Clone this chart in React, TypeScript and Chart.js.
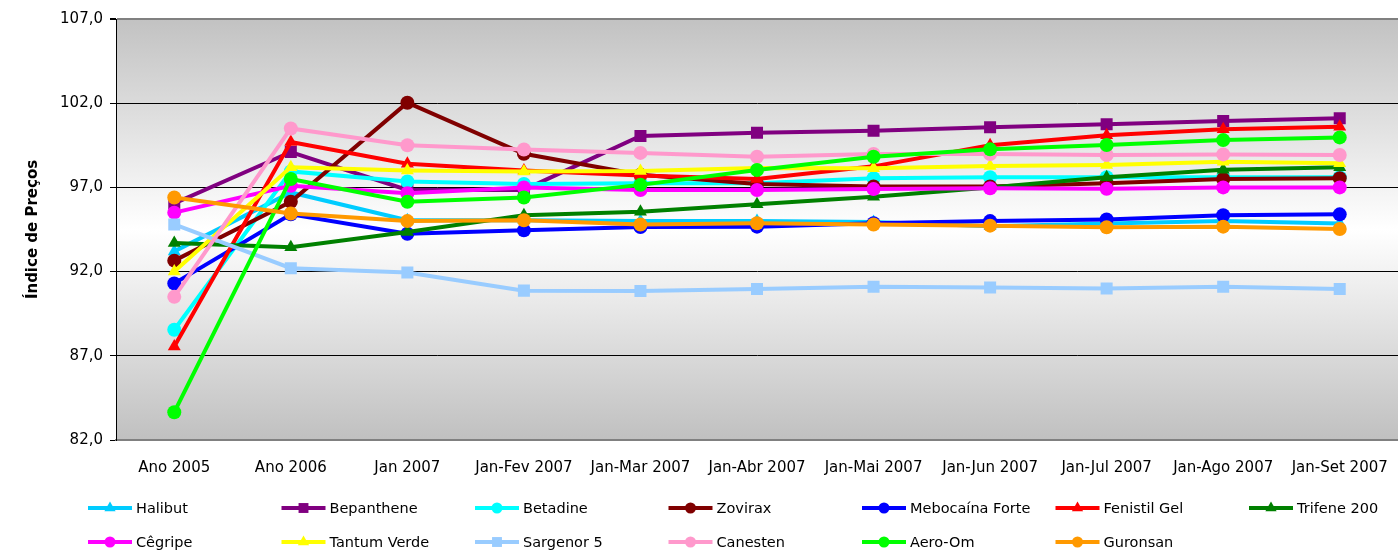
import React, { useEffect, useRef } from 'react';
import { Chart, registerables } from 'chart.js';

Chart.register(...registerables);

const categories = [
  'Ano 2005', 'Ano 2006', 'Jan 2007', 'Jan-Fev 2007', 'Jan-Mar 2007', 'Jan-Abr 2007',
  'Jan-Mai 2007', 'Jan-Jun 2007', 'Jan-Jul 2007', 'Jan-Ago 2007', 'Jan-Set 2007',
];

const yTicks = [82, 87, 92, 97, 102, 107];

const halibut = [93.2, 96.7, 95.05, 95.05, 95.0, 95.0, 94.95, 94.7, 94.85, 95.0, 94.85];
const bepanthene = [96.05, 99.1, 96.85, 96.85, 100.05, 100.25, 100.37, 100.57, 100.75, 100.94, 101.1];
const betadine = [88.55, 97.95, 97.35, 97.2, 97.25, 97.25, 97.55, 97.6, 97.6, 97.6, 97.6];
const zovirax = [92.65, 96.15, 102.03, 99.0, 97.75, 97.2, 97.05, 97.05, 97.25, 97.5, 97.55];
const mebocaina = [91.3, 95.4, 94.25, 94.45, 94.65, 94.67, 94.87, 95.0, 95.1, 95.35, 95.4];
const fenistil = [87.55, 99.7, 98.4, 98.0, 97.7, 97.5, 98.25, 99.5, 100.1, 100.45, 100.6];
const trifene = [93.7, 93.45, 94.35, 95.35, 95.55, 96.0, 96.45, 97.0, 97.6, 98.05, 98.2];
const cegripe = [95.5, 97.1, 96.65, 97.0, 96.85, 96.85, 96.9, 96.95, 96.92, 97.0, 97.0];
const tantumVerde = [92.0, 98.2, 98.0, 97.95, 97.97, 98.15, 98.13, 98.27, 98.33, 98.53, 98.43];
const sargenor = [94.8, 92.2, 91.95, 90.87, 90.85, 90.97, 91.1, 91.05, 91.0, 91.1, 90.97];
const canesten = [90.5, 100.5, 99.5, 99.25, 99.05, 98.82, 98.98, 98.98, 98.92, 98.96, 98.92];
const aeroOm = [83.65, 97.5, 96.15, 96.4, 97.15, 98.03, 98.82, 99.26, 99.52, 99.81, 99.97];
const guronsan = [96.4, 95.45, 95.0, 95.05, 94.8, 94.87, 94.8, 94.73, 94.63, 94.67, 94.53];

const seriesNames = [
  'Halibut', 'Bepanthene', 'Betadine', 'Zovirax', 'Mebocaína Forte', 'Fenistil Gel', 'Trifene 200',
  'Cêgripe', 'Tantum Verde', 'Sargenor 5', 'Canesten', 'Aero-Om', 'Guronsan',
];
const seriesValues = [
  halibut, bepanthene, betadine, zovirax, mebocaina, fenistil, trifene,
  cegripe, tantumVerde, sargenor, canesten, aeroOm, guronsan,
];
const seriesColors = [
  '#00CCFF', '#800080', '#00FFFF', '#800000', '#0000FF', '#FF0000', '#008000',
  '#FF00FF', '#FFFF00', '#99CCFF', '#FF99CC', '#00FF00', '#FF9900',
];
const seriesMarkers = [
  'triangle', 'rect', 'circle', 'circle', 'circle', 'triangle', 'triangle',
  'circle', 'triangle', 'rect', 'circle', 'circle', 'circle',
];

const FONT = "'DejaVu Sans', sans-serif";

function markerRadius(style: string) {
  if (style === 'rect') return 8.5;
  if (style === 'triangle') return 7.5;
  return 7;
}

function drawMarker(ctx: CanvasRenderingContext2D, style: string, x: number, y: number, r: number, color: string) {
  ctx.fillStyle = color;
  ctx.beginPath();
  if (style === 'rect') {
    const s = r * Math.SQRT1_2;
    ctx.rect(x - s, y - s, 2 * s, 2 * s);
  } else if (style === 'triangle') {
    for (let k = 0; k < 3; k++) {
      const a = (k * 2 * Math.PI) / 3;
      const px = x + Math.sin(a) * r;
      const py = y - Math.cos(a) * r;
      if (k === 0) ctx.moveTo(px, py); else ctx.lineTo(px, py);
    }
    ctx.closePath();
  } else {
    ctx.arc(x, y, r, 0, Math.PI * 2);
  }
  ctx.fill();
}

const bgPlugin = {
  id: 'plotBackground',
  beforeDraw(chart: any) {
    const { ctx, chartArea } = chart;
    if (!chartArea) return;
    const g = ctx.createLinearGradient(0, chartArea.top, 0, chartArea.bottom);
    g.addColorStop(0, '#c2c2c2');
    g.addColorStop(0.5, '#ffffff');
    g.addColorStop(1, '#c0c0c0');
    ctx.save();
    ctx.fillStyle = g;
    ctx.fillRect(chartArea.left, chartArea.top, chartArea.right - chartArea.left, chartArea.bottom - chartArea.top);
    ctx.restore();
  },
};

const legendPlugin = {
  id: 'gridLegend',
  afterDraw(chart: any) {
    const ctx: CanvasRenderingContext2D = chart.ctx;
    const perRow = 7;
    const startX = 88;
    const colW = 193.5;
    const rowY = [508, 542];
    const lineLen = 44;
    ctx.save();
    ctx.font = `14.5px ${FONT}`;
    ctx.textBaseline = 'middle';
    ctx.textAlign = 'left';
    chart.data.datasets.forEach((ds: any, i: number) => {
      const row = Math.floor(i / perRow);
      const col = i % perRow;
      const x = startX + col * colW;
      const y = rowY[row];
      ctx.strokeStyle = ds.borderColor;
      ctx.lineWidth = 4;
      ctx.beginPath();
      ctx.moveTo(x, y);
      ctx.lineTo(x + lineLen, y);
      ctx.stroke();
      const st = ds.pointStyle;
      const r = st === 'rect' ? 7 : st === 'triangle' ? 6.5 : 5.5;
      drawMarker(ctx, st, x + lineLen / 2, y, r, ds.borderColor);
      ctx.fillStyle = '#000';
      ctx.fillText(ds.label, x + lineLen + 4, y + 1);
    });
    ctx.restore();
  },
};

export default function App() {
  const ref = useRef<HTMLCanvasElement>(null);

  useEffect(() => {
    const canvas = ref.current;
    if (!canvas) return;
    const datasets = seriesNames.map((name, i) => ({
      label: name,
      data: seriesValues[i],
      borderColor: seriesColors[i],
      backgroundColor: seriesColors[i],
      pointBackgroundColor: seriesColors[i],
      pointBorderColor: seriesColors[i],
      pointBorderWidth: 0,
      pointStyle: seriesMarkers[i],
      pointRadius: markerRadius(seriesMarkers[i]),
      pointHoverRadius: markerRadius(seriesMarkers[i]),
      borderWidth: 4,
      tension: 0,
      fill: false,
      order: -i,
    }));

    const chart = new Chart(canvas, {
      type: 'line',
      data: { labels: categories, datasets },
      plugins: [bgPlugin, legendPlugin],
      options: {
        responsive: false,
        animation: false,
        maintainAspectRatio: false,
        layout: { autoPadding: false, padding: { top: 19, left: 0, right: 0, bottom: 0 } },
        plugins: {
          legend: { display: false },
          tooltip: { enabled: false },
          title: { display: false },
        },
        scales: {
          x: {
            type: 'category',
            offset: true,
            grid: {
              display: true,
              drawOnChartArea: false,
              drawTicks: true,
              tickLength: 5,
              color: 'rgba(0,0,0,0)',
              tickColor: 'rgba(0,0,0,0)',
            },
            border: { display: true, color: '#808080', width: 2 },
            ticks: {
              color: '#000',
              font: { family: FONT, size: 15 },
              padding: 14,
              maxRotation: 0,
              autoSkip: false,
            },
            afterFit: (scale: any) => {
              scale.height = 111;
              scale.paddingLeft = 0;
              scale.paddingRight = 0;
            },
          },
          y: {
            type: 'linear',
            min: yTicks[0],
            max: yTicks[yTicks.length - 1],
            afterBuildTicks: (scale: any) => { scale.ticks = yTicks.map((v) => ({ value: v })); },
            ticks: {
              color: '#000',
              font: { family: FONT, size: 15 },
              padding: 7,
              callback: (v: any) => Number(v).toFixed(1).replace('.', ','),
            },
            grid: {
              color: (c: any) => (c.tick && c.tick.value === 107 ? '#808080' : c.tick && c.tick.value === 82 ? 'rgba(0,0,0,0)' : '#000'),
              lineWidth: (c: any) => (c.tick && c.tick.value === 107 ? 2 : 1),
              tickColor: '#000',
              tickLength: 6,
              drawTicks: true,
            },
            border: { display: true, color: '#000', width: 1 },
            title: {
              display: true,
              text: 'Índice de Preços',
              color: '#000',
              font: { family: FONT, size: 15, weight: 'bold' },
              padding: { top: 24, bottom: 0 },
            },
            afterFit: (scale: any) => { scale.width = 116; },
          },
        },
      } as any,
    });
    return () => chart.destroy();
  }, []);

  return (
    <div style={{ position: 'absolute', left: 0, top: 0, width: 1398, height: 551 }}>
      <canvas ref={ref} width={1398} height={551} style={{ display: 'block' }} />
    </div>
  );
}
